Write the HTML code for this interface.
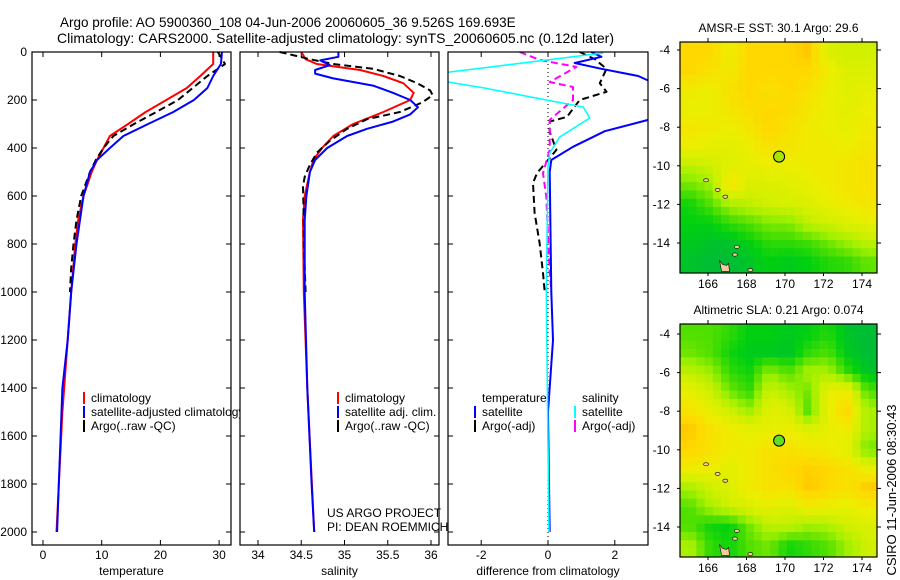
<!DOCTYPE html>
<html><head><meta charset="utf-8"><style>
body{margin:0;background:#fff}
svg{display:block;font-family:"Liberation Sans",sans-serif}
</style></head><body>
<svg id="svg" width="900" height="580" viewBox="0 0 900 580" xmlns="http://www.w3.org/2000/svg">
<rect width="900" height="580" fill="#fff"/>
<text x="60" y="27" font-size="13.5">Argo profile: AO 5900360_108 04-Jun-2006 20060605_36 9.526S 169.693E</text>
<text x="57" y="43" font-size="14" textLength="557">Climatology: CARS2000. Satellite-adjusted climatology: synTS_20060605.nc (0.12d later)</text>
<g id="plots"></g>
<text transform="translate(896,490) rotate(-90)" font-size="13" text-anchor="middle">CSIRO 11-Jun-2006 08:30:43</text>
</svg>
<script>
// ---------- data ----------
const depthTC=[0,50,100,150,200,250,300,350,400,450,500,600,700,800,1000,1200,1500,2000];
const tempClim=[29,29,26.8,24.5,21,17.5,14.5,11.4,10.3,9.2,8.3,6.9,6,5.5,4.8,4.2,3.3,2.3];
const depthTS=[0,50,100,150,200,250,300,350,400,450,500,600,700,800,1000,1200,1400,1600,1800,2000];
const tempSat=[30.5,30.3,29,28,25.7,22.2,17.9,13.7,11.4,9.2,8,6.9,6.3,5.7,4.8,4.2,3.3,3,2.7,2.4];
const depthTA=[0,50,100,150,200,250,300,350,400,450,500,600,700,800,900,1000];
const tempArgo=[29.8,31,28,25.5,23,19.3,15.5,12,10.3,9,8,6.5,5.7,5.2,4.8,4.6];
const depthSC=[0,30,50,75,100,130,170,200,250,300,350,400,450,500,600,700,1000,1400,2000];
const salClim=[34.5,34.55,34.68,35.18,35.45,35.68,35.8,35.76,35.45,35.1,34.87,34.74,34.64,34.6,34.54,34.52,34.53,34.57,34.65];
const depthSS=[0,20,35,55,75,90,110,140,170,200,230,260,290,320,350,400,450,500,600,700,1000,1400,1800,2000];
const salSat=[34.93,34.93,34.72,34.83,34.66,34.66,34.87,35.33,35.56,35.76,35.85,35.76,35.56,35.26,35.03,34.8,34.66,34.6,34.56,34.54,34.54,34.57,34.62,34.65];
const depthSA=[0,10,30,50,70,100,130,160,180,210,250,280,320,370,420,470,520,560,700,800,1000];
const salArgo=[34.25,34.37,34.6,34.87,35.33,35.64,35.84,35.99,36.02,35.9,35.64,35.26,35.03,34.83,34.68,34.6,34.54,34.52,34.53,34.53,34.55];
const depthDTS=[0,20,46,70,100,125,150,250,283,330,395,450,500,1000,1200,1500,2000];
const diffTempSat=[1.3,1.6,0.8,1.6,2.7,3.1,4,4,3,1.7,0.75,0.1,0.05,0.1,0.15,0,0.05];
const depthDTA=[0,30,70,130,166,200,270,290,333,408,450,505,546,671,796,921,1000];
const diffTempArgo=[0.95,1.4,1.75,1.55,1.75,0.95,0.57,0.05,0.05,0.25,0,-0.33,-0.45,-0.4,-0.25,-0.15,-0.1];
const depthDSS=[4,88,100,115,125,150,200,229,275,354,421,479,1000,2000];
const diffSalSat=[1.65,-3.2,-5,-5,-3,-1.9,-0.05,1.05,1.25,0.35,0.05,0,-0.05,0.03];
const depthDSA=[0,33,62,125,146,200,283,408,505,604,921,991];
const diffSalArgo=[-0.85,-0.25,0.85,0.05,0.75,0.75,0.05,0.05,-0.15,-0.05,0.05,0.1];
const depthTicks=[0,200,400,600,800,1000,1200,1400,1600,1800,2000];
const tempTicks=[0,10,20,30];
const salTicks=[34,34.5,35,35.5,36];
const diffTicks=[-2,0,2];
// map fields (coarse, 10 lon cols x 12 lat rows, -4..-15)
const sstField=[
[3,3,2.5,3,3,3,3.2,2.2,2,2],[3,2.8,2.6,3,3,3,3,2.6,2.2,2.2],[2.6,2.5,2.8,3,2.8,3,2.8,2.5,2.3,2.4],
[2.4,2.5,2.7,2.9,3,2.9,2.7,2.5,2.3,2.5],[2.7,2.6,2.5,2.7,3,2.8,2.6,2.5,2.4,2.6],[2.5,2.4,2.3,2.5,2.8,2.7,2.6,2.6,2.5,2.7],
[1.8,2,2.3,2.4,2.5,2.5,2.6,2.6,2.7,2.8],[1.2,1.5,2.8,2.2,2.2,2.3,2.4,2.6,2.7,2.8],[0.6,1,1.6,1.8,2,2.1,2.2,2.4,2.6,2.7],
[0.5,0.5,0.8,1,1.3,1.3,1.8,2,2.2,2.4],[0.4,0.3,0.3,0.5,0.8,0.8,0.9,1.2,1.5,1.8],[0.3,0.2,0.2,0.3,0.5,0.4,0.5,0.7,0.8,1.1]];
const slaField=[
[1,1,0.8,0.5,0.5,0.4,0.5,0.7,0.3,0.2],[1.2,1,0.6,0.4,0.4,0.3,0.8,1,0.4,0.2],[1.8,1.5,0.8,0.6,1.4,1,1.6,1.6,0.8,0.3],
[2.4,2,1.2,0.8,2,1.6,1.2,2.4,2.6,1],[2.8,2.4,2,1.5,2.3,2.2,1,2.4,3,1.6],[3.2,2.8,2.6,2.4,2.4,2.5,2.2,2.4,2.6,1.6],
[3,2.8,2.6,2.6,2.8,2.8,2.7,2.6,2.3,1.2],[2.6,2.6,2.3,2.6,2.8,3,3.1,3,2.8,2.4],[1.6,2,2.2,2.6,2.8,2.8,3.2,3,2.8,3.2],
[1,1.6,2,2.2,2.4,2.2,2.6,2.5,2.4,2.6],[1,0.6,0.5,1.2,1.8,1.8,1.5,1.6,2,2.2],[1.6,0.8,0.6,1,1.2,0.6,0.8,1,1.5,2]];
const latTicks=[-4,-6,-8,-10,-12,-14];
const lonTicks=[166,168,170,172,174];
const floatLon=169.693, floatLat=-9.526;

// ---------- helpers ----------
const NS='http://www.w3.org/2000/svg';
const root=document.getElementById('plots');
function mk(tag,attrs,parent){const e=document.createElementNS(NS,tag);for(const k in attrs)e.setAttribute(k,attrs[k]);(parent||root).appendChild(e);return e;}
const Y0=52, YB=545;
const yD=d=>Y0+d*0.24;
const x1=v=>43+v*5.87;
const x2=v=>258+(v-34)*86.5;
const x3=v=>548+v*33.4;
const panels=[{l:32,r:231,n:'temperature'},{l:240,r:439,n:'salinity'},{l:448,r:648,n:'difference'}];
const defs=mk('defs',{});
panels.forEach((p,i)=>{const c=mk('clipPath',{id:'clip'+i},defs);mk('rect',{x:p.l,y:Y0-5,width:p.r-p.l,height:YB-Y0+5},c);});

function panelFrame(p,i,xs,ticks,fmt,title){
  const g=mk('g',{});
  
  
  mk('rect',{x:p.l,y:Y0,width:p.r-p.l,height:YB-Y0,fill:'#fff',stroke:'none'},g);
  ticks.forEach(t=>{const x=xs(t);
    mk('line',{x1:x,x2:x,y1:YB,y2:YB-5,stroke:'#000'},g);
    mk('line',{x1:x,x2:x,y1:Y0,y2:Y0+5,stroke:'#000'},g);
    const tx=mk('text',{x:x,y:YB+14,'font-size':12,'text-anchor':'middle'},g);tx.textContent=fmt(t);
    
    
  });
  depthTicks.forEach(d=>{const y=yD(d);
    mk('line',{x1:p.l,x2:p.l+5,y1:y,y2:y,stroke:'#000'},g);
    mk('line',{x1:p.r,x2:p.r-5,y1:y,y2:y,stroke:'#000'},g);
    if(i===0){const tx=mk('text',{x:27,y:y+4,'font-size':12,'text-anchor':'end'},g);tx.textContent=d;
      
      }
  });
  const tt=mk('text',{x:(p.l+p.r)/2,y:575,'font-size':12,'text-anchor':'middle'},g);tt.textContent=title;
  
  
  return g;
}
function series(i,xs,vals,deps,color,w,dash,name){
  const pts=vals.map((v,k)=>xs(v).toFixed(1)+','+yD(deps[k]).toFixed(1)).join(' ');
  const a={points:pts,fill:'none',stroke:color,'stroke-width':w,'clip-path':'url(#clip'+i+')','stroke-linejoin':'round'};
  if(dash)a['stroke-dasharray']=dash;
  const e=mk('polyline',a);
  
  
}
function frame(p){mk('rect',{x:p.l,y:Y0,width:p.r-p.l,height:YB-Y0,fill:'none',stroke:'#000','stroke-width':1.2});}
function legend(x,y,color,label,name){
  const g=mk('g',{});
  
  
  mk('line',{x1:x,x2:x,y1:y-10,y2:y+2,stroke:color,'stroke-width':2},g);
  const t=mk('text',{x:x+7,y:y,'font-size':12},g);t.textContent=label;
}
function fmtN(t){return String(t);}

// panel 1
panelFrame(panels[0],0,x1,tempTicks,fmtN,'temperature');
series(0,x1,tempClim,depthTC,'#f00',2,null,'temperature-climatology-line');
series(0,x1,tempArgo,depthTA,'#000',2,'7,4','temperature-argo-line');
series(0,x1,tempSat,depthTS,'#00f',2,null,'temperature-satellite-line');
legend(84,402,'#f00','climatology','legend-climatology');
legend(84,416,'#00f','satellite-adjusted climatology','legend-satellite-adjusted');
legend(84,430,'#000','Argo(..raw -QC)','legend-argo');
frame(panels[0]);
// panel 2
panelFrame(panels[1],1,x2,salTicks,fmtN,'salinity');
series(1,x2,salClim,depthSC,'#f00',2,null,'salinity-climatology-line');
series(1,x2,salArgo,depthSA,'#000',2,'7,4','salinity-argo-line');
series(1,x2,salSat,depthSS,'#00f',2,null,'salinity-satellite-line');
legend(338,402,'#f00','climatology','legend-sal-climatology');
legend(338,416,'#00f','satellite adj. clim.','legend-sal-satellite');
legend(338,430,'#000','Argo(..raw -QC)','legend-sal-argo');
(function(){const t=mk('text',{x:327,y:517,'font-size':12});t.textContent='US ARGO PROJECT';

const t2=mk('text',{x:327,y:531,'font-size':12});t2.textContent='PI: DEAN ROEMMICH';
})();
frame(panels[1]);
// panel 3
panelFrame(panels[2],2,x3,diffTicks,fmtN,'difference from climatology');
mk('line',{x1:x3(0),x2:x3(0),y1:Y0,y2:YB,stroke:'#000','stroke-width':1,'stroke-dasharray':'1,3'});
series(2,x3,diffTempArgo,depthDTA,'#000',2,'7,4','diff-temperature-argo-line');
series(2,x3,diffSalArgo,depthDSA,'#f0f',2,'7,4','diff-salinity-argo-line');
series(2,x3,diffTempSat,depthDTS,'#00f',2,null,'diff-temperature-satellite-line');
series(2,x3,diffSalSat,depthDSS,'#0ff',1.6,null,'diff-salinity-satellite-line');
(function(){let t=mk('text',{x:482,y:402,'font-size':12});t.textContent='temperature';

t=mk('text',{x:582,y:402,'font-size':12});t.textContent='salinity';
})();
legend(475,416,'#00f','satellite','legend-diff-temp-satellite');
legend(475,430,'#000','Argo(-adj)','legend-diff-temp-argo');
legend(575,416,'#0ff','satellite','legend-diff-sal-satellite');
legend(575,430,'#f0f','Argo(-adj)','legend-diff-sal-argo');
frame(panels[2]);

// ---------- maps ----------
const stops=[[0,[0,176,80]],[0.5,[0,208,16]],[1,[80,224,0]],[1.5,[160,240,0]],[2,[208,240,0]],[2.5,[236,238,0]],[3,[255,216,0]],[3.5,[255,176,0]]];
function cmap(v){v=Math.max(0,Math.min(3.5,v));for(let k=0;k<stops.length-1;k++){const[a,ca]=stops[k],[b,cb]=stops[k+1];if(v<=b){const f=(v-a)/(b-a);return 'rgb('+ca.map((c,j)=>Math.round(c+(cb[j]-c)*f)).join(',')+')';}}return 'rgb(255,176,0)';}
function sample(F,r,c){const R=F.length,C=F[0].length;r=Math.max(0,Math.min(R-1,r));c=Math.max(0,Math.min(C-1,c));const r0=Math.floor(r),c0=Math.floor(c),r1=Math.min(R-1,r0+1),c1=Math.min(C-1,c0+1),fr=r-r0,fc=c-c0;
return F[r0][c0]*(1-fr)*(1-fc)+F[r0][c1]*(1-fr)*fc+F[r1][c0]*fr*(1-fc)+F[r1][c1]*fr*fc;}
function drawMap(m,F,title,name,circleFill){
  const L=680,R=877;const lx=v=>708+(v-166)*19.25;const ly=v=>m.y4+(-4-v)*m.dy;
  const g=mk('g',{});
  
  
  const cp=mk('clipPath',{id:'c'+name},defs);mk('rect',{x:L,y:m.top,width:R-L,height:m.bot-m.top},cp);
  const cells=mk('g',{'clip-path':'url(#c'+name+')'},g);
  const nc=24,nr=28;const cw=(R-L)/nc,ch=(m.bot-m.top)/nr;
  for(let i=0;i<nr;i++)for(let j=0;j<nc;j++){
    const lon=164.55+(j+0.5)*(10.25/nc);const lat=-3.5-(i+0.5)*(12.1/nr);
    const c=(lon-165.1)/1.02;const r=(-4-lat);
    mk('rect',{x:(L+j*cw).toFixed(2),y:(m.top+i*ch).toFixed(2),width:(cw+0.6).toFixed(2),height:(ch+0.6).toFixed(2),fill:cmap(sample(F,r,c))},cells);
  }
  // islands
  mk('path',{d:`M${lx(166.6)},${ly(-14.9)} l3,4 l4,1 l2,-2 l1,8 l-8,0 z`,fill:'#f4c8a0',stroke:'#000','stroke-width':0.6},cells);
  [[165.9,-10.75],[166.5,-11.25],[167.5,-14.2],[167.4,-14.6],[168.2,-15.4],[166.9,-11.6]].forEach(p=>mk('ellipse',{cx:lx(p[0]),cy:ly(p[1]),rx:2.5,ry:1.6,fill:'#f4c8a0',stroke:'#000','stroke-width':0.6},cells));
  mk('rect',{x:L,y:m.top,width:R-L,height:m.bot-m.top,fill:'none',stroke:'#000','stroke-width':1.2},g);
  latTicks.forEach(v=>{const y=ly(v);mk('line',{x1:R,x2:R+4,y1:y,y2:y,stroke:'#000'},g);mk('line',{x1:L,x2:L-3,y1:y,y2:y,stroke:'#000'},g);
    const t=mk('text',{x:670,y:y+4,'font-size':12,'text-anchor':'end'},g);t.textContent=v;});
  lonTicks.forEach(v=>{const x=lx(v);mk('line',{x1:x,x2:x,y1:m.top,y2:m.top-4,stroke:'#000'},g);mk('line',{x1:x,x2:x,y1:m.bot,y2:m.bot+3,stroke:'#000'},g);
    const t=mk('text',{x:x,y:m.bot+15,'font-size':12,'text-anchor':'middle'},g);t.textContent=v;});
  const c=mk('circle',{cx:lx(floatLon),cy:ly(floatLat),r:5.5,fill:circleFill,stroke:'#000','stroke-width':1},g);
  
  
  const t=mk('text',{x:(L+R)/2,y:m.top-10,'font-size':12,'text-anchor':'middle'},g);t.textContent=title;
  
  
}
drawMap({top:42,bot:273,y4:50,dy:19.3},sstField,'AMSR-E SST: 30.1 Argo: 29.6','sst-map','#a8e400');
drawMap({top:324,bot:557,y4:334,dy:19.3},slaField,'Altimetric SLA: 0.21 Argo: 0.074','sla-map','#60e020');
</script>
</body></html>
